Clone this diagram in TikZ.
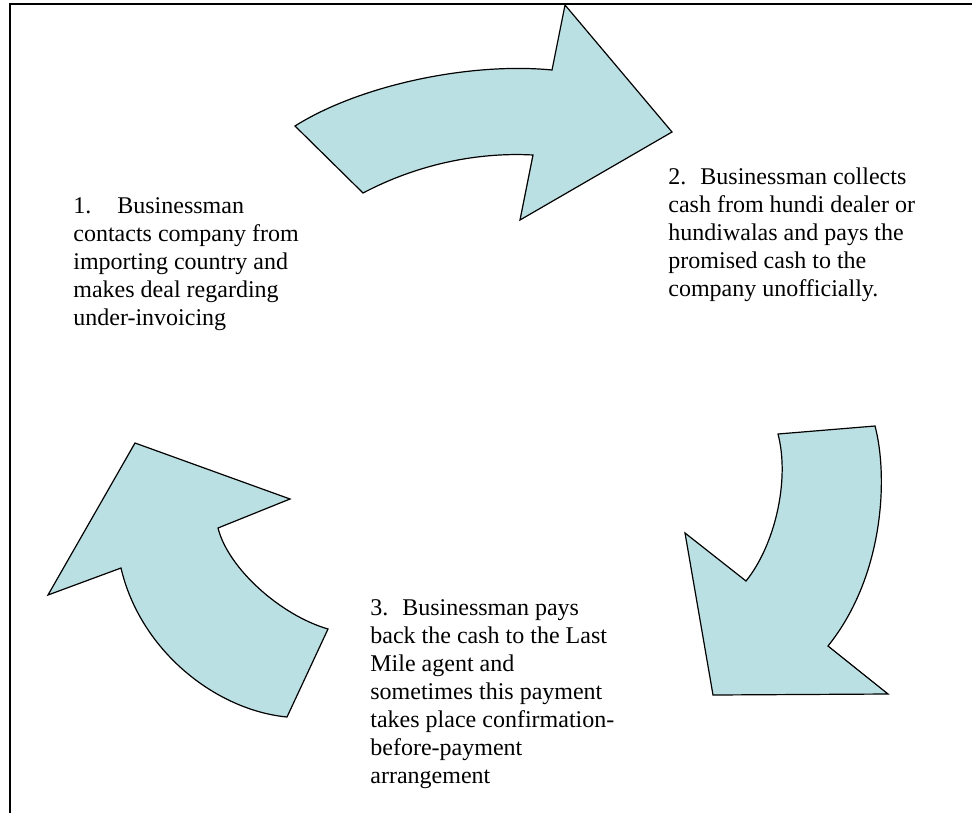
\documentclass[tikz,border=0pt]{standalone}
\usepackage{fontspec}
\setmainfont{Liberation Serif}
\usetikzlibrary{calc}
\definecolor{arrowfill}{RGB}{187,224,227}
\tikzset{
    bentarrow/.style = {draw, fill=arrowfill, line width=0.6pt, line join=miter},
    steptext/.style = {inner sep=0pt, anchor=base west, align=left,
        font=\fontsize{12}{14}\selectfont},
    frameline/.style = {draw, line width=1pt}
}

\begin{document}
\begin{tikzpicture}[x=0.5pt, y=-0.5pt]
    \useasboundingbox (0,0) rectangle (972,813);
    \draw [frameline] (10,813) -- (10,4) -- (972,4);
    \draw [bentarrow] (295,126) -- (363,193) .. controls (418,164) and (478,152) .. (533,155)
        -- (520,220) -- (672,132) -- (565,5) -- (552,70)
        .. controls (470,62) and (360,85) .. (295,126) -- cycle;
    \draw [bentarrow] (778,434) -- (875,426) .. controls (888,475) and (885,575) .. (828,646)
        -- (888,694) -- (713,695) -- (685,533) -- (746,581)
        .. controls (775,545) and (790,480) .. (778,434) -- cycle;
    \draw [bentarrow] (135,443) -- (290,499) -- (218,528) .. controls (228,568) and (280,615) .. (328,629)
        -- (287,717) .. controls (215,710) and (140,650) .. (121,568)
        -- (48,595) -- cycle;
    \node [steptext] (step1) at (73,325) {1.\hspace{13pt}Businessman\\contacts company from\\importing country and\\makes deal regarding\\under-invoicing};
    \node [steptext] (step2) at (668,296) {2.\hspace{7pt}Businessman collects\\cash from hundi dealer or\\hundiwalas and pays the\\promised cash to the\\company unofficially.};
    \node [steptext] (step3) at (370,783) {3.\hspace{7pt}Businessman pays\\back the cash to the Last\\Mile agent and\\sometimes this payment\\takes place confirmation-\\before-payment\\arrangement};
\end{tikzpicture}
\end{document}
